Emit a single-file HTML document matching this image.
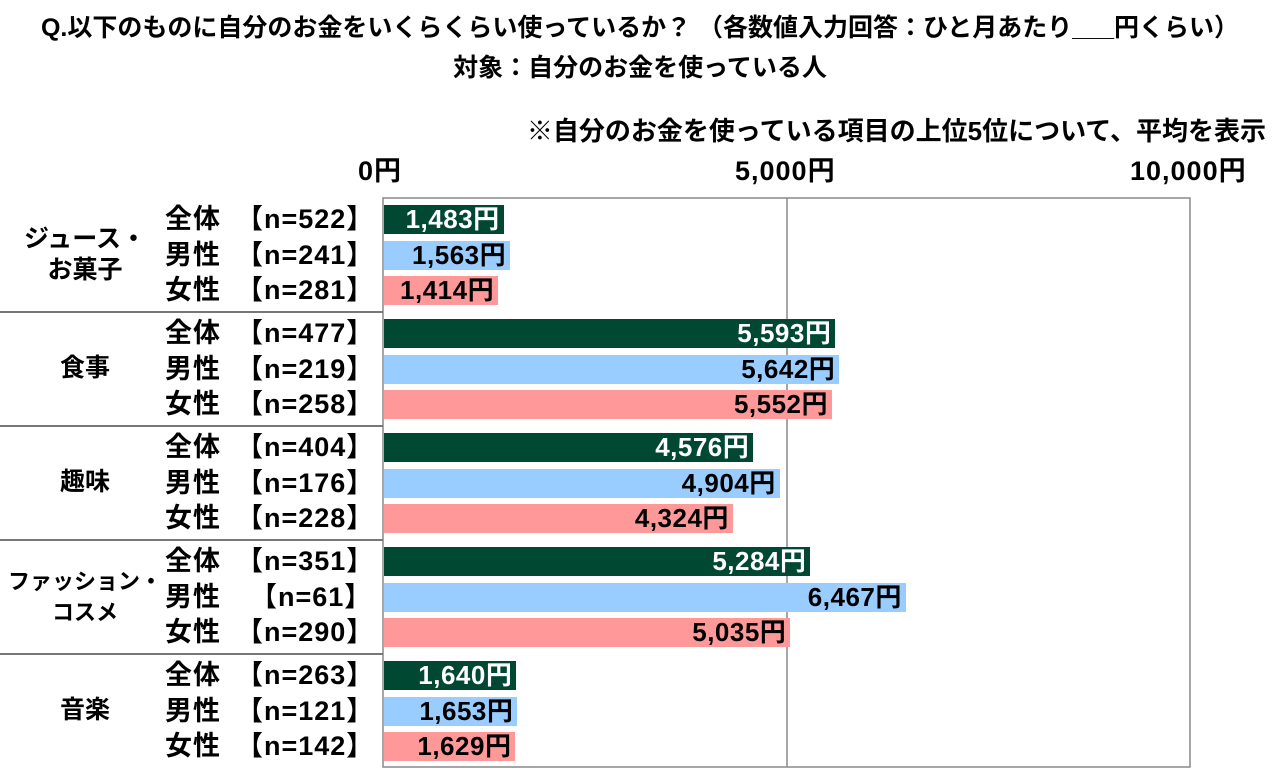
<!DOCTYPE html><html><head><meta charset="utf-8"><style>
body{margin:0;width:1280px;height:781px;background:#fff;overflow:hidden;font-family:"Liberation Sans","Noto Sans CJK JP",sans-serif;font-weight:bold;position:relative}
.t{position:absolute;white-space:nowrap;color:#000}
</style></head><body>
<div class="t" style="left:0;width:1280px;text-align:center;top:8px;font-size:25px;line-height:40px">Q.以下のものに自分のお金をいくらくらい使っているか？ （各数値入力回答：ひと月あたり___円くらい）<br>対象：自分のお金を使っている人</div>
<div class="t" style="right:14px;top:111px;font-size:26px">※自分のお金を使っている項目の上位5位について、平均を表示</div>
<div class="t" style="left:358px;top:149px;font-size:27px;letter-spacing:1px">0円</div>
<div class="t" style="left:735px;top:149px;font-size:27px;letter-spacing:1px">5,000円</div>
<div class="t" style="left:1130px;top:149px;font-size:27px;letter-spacing:1px">10,000円</div>
<svg style="position:absolute;left:0;top:0" width="1280" height="781">
<rect x="383" y="198" width="807" height="569" fill="none" stroke="#888" stroke-width="1.5"/>
<line x1="787" y1="198" x2="787" y2="767" stroke="#888" stroke-width="1.5"/>
<g stroke="#777" stroke-width="2"><line x1="0" y1="312" x2="383" y2="312"/><line x1="0" y1="426" x2="383" y2="426"/><line x1="0" y1="540" x2="383" y2="540"/><line x1="0" y1="654" x2="383" y2="654"/></g>
</svg>
<div id="c"></div>
<script>
const G=[["ジュース・<br>お菓子",[[522,1483],[241,1563],[281,1414]]],["食事",[[477,5593],[219,5642],[258,5552]]],["趣味",[[404,4576],[176,4904],[228,4324]]],["ファッション・<br>コスメ",[[351,5284],[61,6467],[290,5035]]],["音楽",[[263,1640],[121,1653],[142,1629]]]];
const L=["全体","男性","女性"],C=["#004832","#99ccff","#ff9999"],F=["#fff","#000","#000"];
let h="";
G.forEach((g,i)=>{const y0=198+i*114;
h+=`<div class="t" style="left:0;width:170px;text-align:center;top:${y0+57-(g[0].includes('<br>')?31:16)}px;font-size:${i==3?22:25}px;line-height:31px">${g[0]}</div>`;
g[1].forEach((r,j)=>{const y=y0+7+j*35.5,w=r[1]*0.0807;
h+=`<div class="t" style="left:165px;top:${y-2}px;font-size:27px;line-height:32px;letter-spacing:1px">${L[j]}</div>`;
h+=`<div class="t" style="left:${r[0]<100?250:236}px;top:${y-2}px;font-size:27px;line-height:32px;letter-spacing:1px">【n=${r[0]}】</div>`;
h+=`<div style="position:absolute;left:384px;top:${y}px;width:${w}px;height:29px;background:${C[j]}"></div>`;
h+=`<div class="t" style="left:${384+w-180}px;width:176px;text-align:right;top:${y}px;font-size:26px;line-height:29px;letter-spacing:0.5px;color:${F[j]}">${r[1].toLocaleString('en-US')}円</div>`;});});
document.getElementById("c").innerHTML=h;
</script>
</body></html>
